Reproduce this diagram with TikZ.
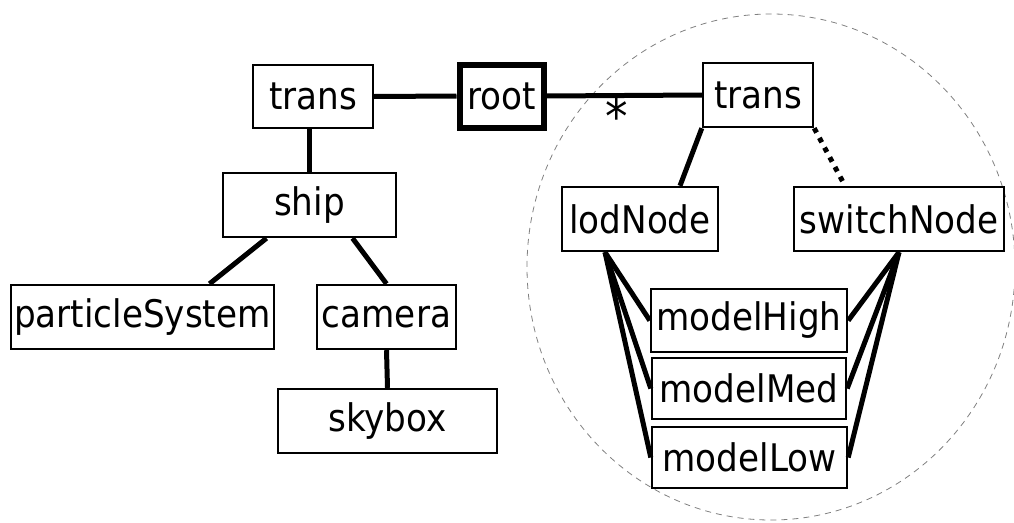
\documentclass[tikz,border=0pt]{standalone}
\usepackage{fontspec}
\setmainfont{DejaVu Sans Condensed}
\usetikzlibrary{calc}
\begin{document}
\begin{tikzpicture}[x=1pt,y=-1pt,
  box/.style={draw,line width=2.4pt,inner sep=0pt,font=\fontsize{38}{44}\selectfont},
  edge/.style={line width=5pt},
  dotedge/.style={line width=5pt,dash pattern=on 5pt off 6pt}]
\useasboundingbox (0,0) rectangle (1014,522);
\draw[gray,line width=0.8pt,dash pattern=on 6pt off 5pt] (771,267) ellipse [x radius=244, y radius=253];
\node[box,minimum width=120pt,minimum height=63pt] (transL) at (313,96.5) {trans};
\node[box,line width=6pt,minimum width=84pt,minimum height=63pt] (root) at (501.5,96) {root};
\node[box,minimum width=110pt,minimum height=64pt] (transR) at (758,95) {trans};
\node[box,minimum width=173pt,minimum height=64pt] (ship) at (309.5,205) {ship};
\node[box,minimum width=263pt,minimum height=64pt] (particle) at (142.5,317) {particleSystem};
\node[box,minimum width=139pt,minimum height=64pt] (camera) at (386.5,317) {camera};
\node[box,minimum width=219pt,minimum height=64pt] (skybox) at (387.5,421) {skybox};
\node[box,minimum width=156pt,minimum height=64pt] (lod) at (640,219) {lodNode};
\node[box,minimum width=210pt,minimum height=64pt] (switch) at (899,219) {switchNode};
\node[box,minimum width=196pt,minimum height=63pt] (mHigh) at (749,320.5) {modelHigh};
\node[box,minimum width=194pt,minimum height=61pt] (mMed) at (749,388.5) {modelMed};
\node[box,minimum width=195pt,minimum height=61pt] (mLow) at (749.5,457.5) {modelLow};
\node[font=\fontsize{50}{56}\selectfont,inner sep=0pt] (star) at (617,116) {*};
\draw[edge] (transL.east) -- (root.west);
\draw[edge] (root.east) -- (transR.west);
\draw[edge] (ship.north) -- (ship.north |- transL.south);
\draw[edge] ($(ship.south)+(-43,0)$) -- ($(particle.north)+(67,0)$);
\draw[edge] ($(ship.south)+(43,0)$) -- (camera.north);
\draw[edge] (camera.south) -- (skybox.north);
\draw[edge] (transR.south west) -- ($(lod.north)+(40,0)$);
\draw[dotedge] (transR.south east) -- ($(switch.north)+(-54,0)$);
\coordinate (lodfan) at ($(lod.south)+(-35,0)$);
\draw[edge] (lodfan) -- (mHigh.west);
\draw[edge] (lodfan) -- (mMed.west);
\draw[edge] (lodfan) -- (mLow.west);
\draw[edge] (switch.south) -- (mHigh.east);
\draw[edge] (switch.south) -- (mMed.east);
\draw[edge] (switch.south) -- (mLow.east);
\end{tikzpicture}
\end{document}
